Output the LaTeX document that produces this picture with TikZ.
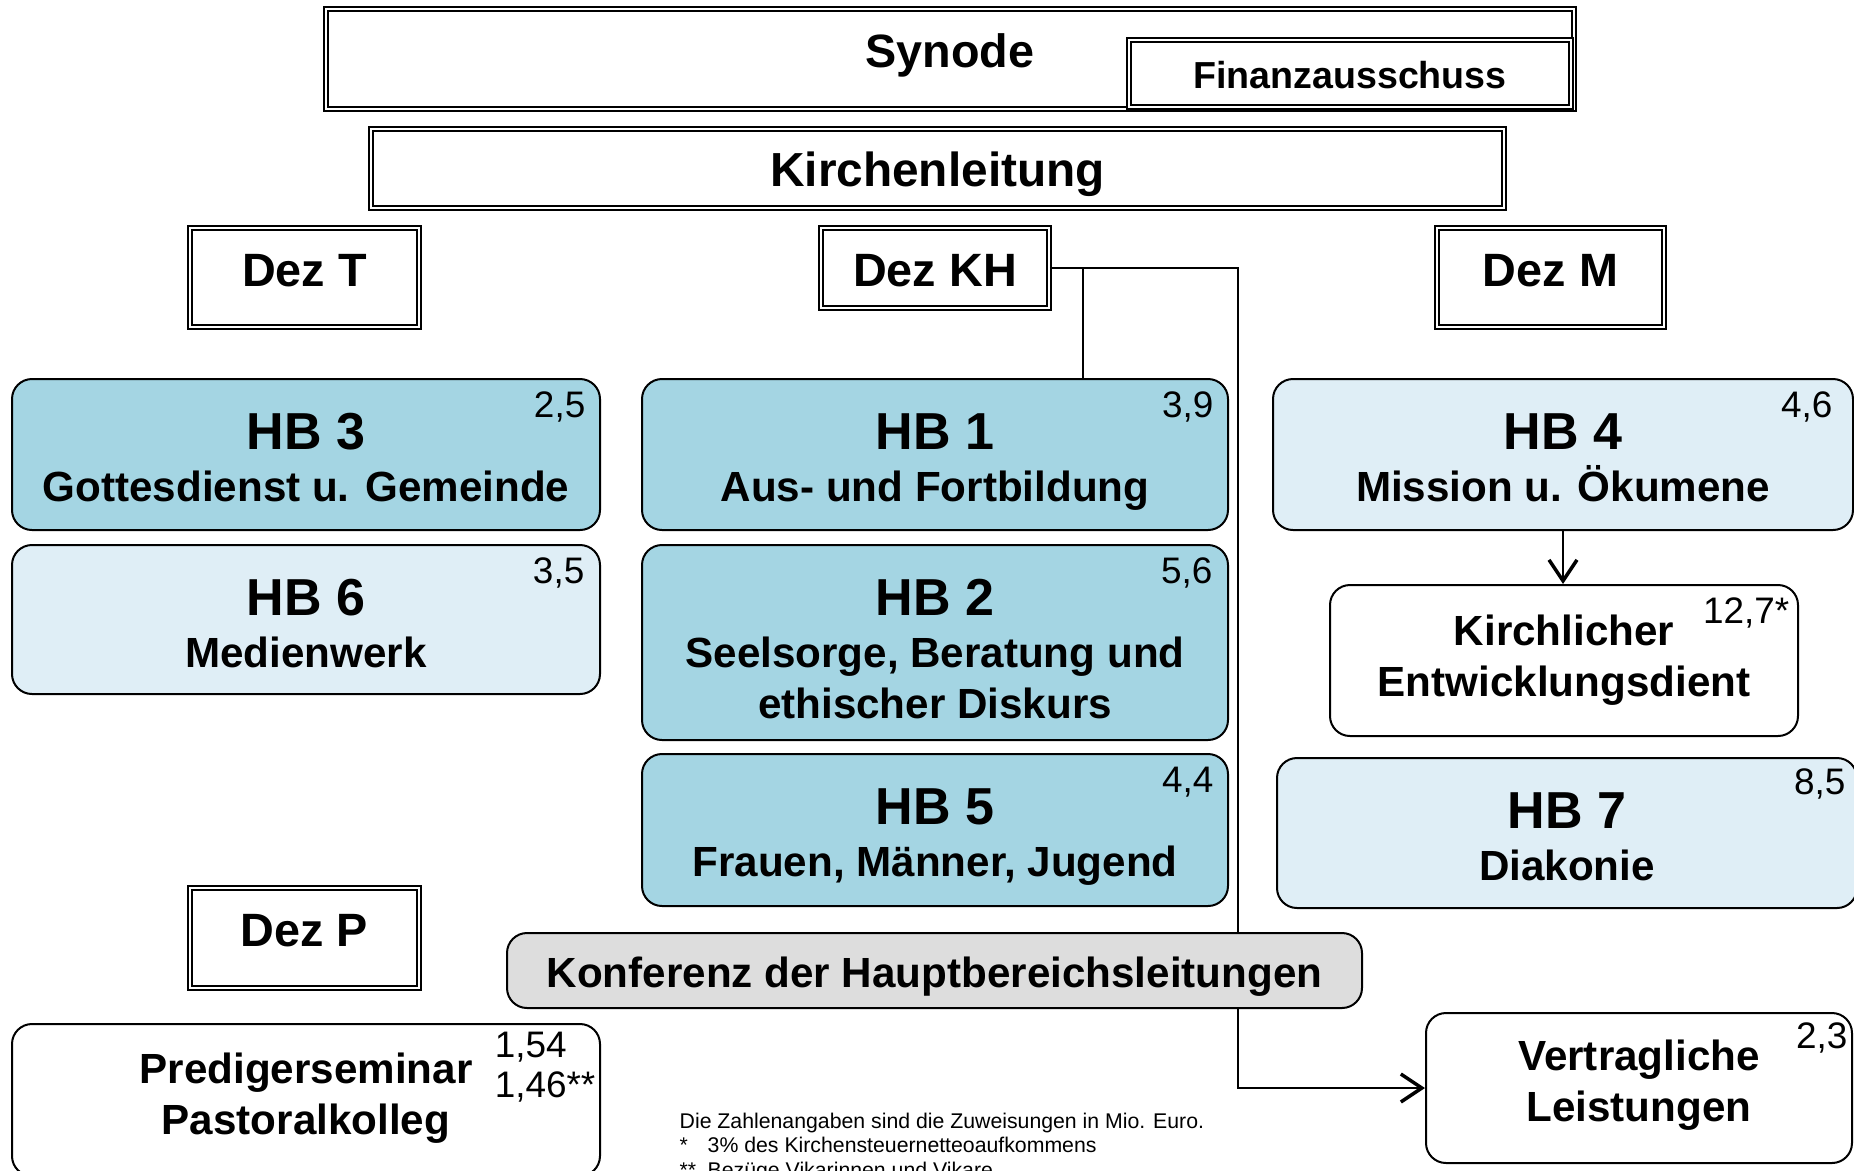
\documentclass[tikz,border=0pt]{standalone}
\usepackage{fontspec}
\setmainfont{Liberation Sans}
\usepackage{tikz}
\usetikzlibrary{arrows.meta, positioning}

\definecolor{hbdark}{RGB}{164,213,227}
\definecolor{hblight}{RGB}{223,238,246}
\definecolor{konfgray}{RGB}{221,221,221}

\newcommand{\hbtitle}[1]{{\fontsize{14.8}{16}\selectfont #1}\\[0.4pt]}

\tikzset{
  dbox/.style={draw, double, line width=0.15mm, double distance=0.25mm, fill=white, inner sep=0pt, anchor=north, font=\bfseries\fontsize{13.3}{16}\selectfont},
  hbox/.style={draw, line width=0.2mm, rounded corners=2mm, inner sep=0pt, anchor=north, align=center, font=\bfseries\fontsize{12}{14.5}\selectfont},
  num/.style={inner sep=0pt, anchor=north east, align=left, font=\fontsize{10.5}{11.5}\selectfont},
  conn/.style={line width=0.15mm},
  tip/.style={-{Straight Barb[length=2.1mm, width=2.8mm, line width=0.35mm]}}
}

\begin{document}
\begin{tikzpicture}[x=0.1mm, y=-0.1mm]
\useasboundingbox (0,0) rectangle (1854,1170);
\clip (0,0) rectangle (1854,1170);

\node[dbox, minimum width=124.8mm, text height=5.9mm, text depth=4.1mm] (synode) at (950,8) {Synode};
\node[dbox, minimum width=44.2mm, text height=4.9mm, text depth=1.8mm, font=\bfseries\fontsize{10.7}{13}\selectfont] (finanz) at (1350,39) {Finanzausschuss};
\node[dbox, minimum width=113.3mm, text height=5.8mm, text depth=2.1mm, font=\bfseries\fontsize{13.6}{16}\selectfont] (kl) at (937.5,128) {Kirchenleitung};

\node[dbox, minimum width=22.9mm, text height=5.9mm, text depth=4.0mm] (dezt) at (304.5,227) {Dez T};
\node[dbox, minimum width=22.8mm, text height=5.9mm, text depth=2.1mm] (dezkh) at (935,227) {Dez KH};
\node[dbox, minimum width=22.7mm, text height=5.9mm, text depth=4.0mm] (dezm) at (1550.5,227) {Dez M};
\node[dbox, minimum width=22.9mm, text height=5.9mm, text depth=4.1mm] (dezp) at (304.5,887) {Dez P};

\node[hbox, fill=hbdark, minimum width=58.8mm, text height=12.29mm, text depth=2.81mm] (hb3) at (306,378) {\hbtitle{HB 3}Gottesdienst u. Gemeinde};
\node[hbox, fill=hblight, minimum width=58.8mm, text height=12.29mm, text depth=2.61mm] (hb6) at (306,544) {\hbtitle{HB 6}Medienwerk};
\node[hbox, fill=hbdark, minimum width=58.6mm, text height=12.29mm, text depth=2.81mm] (hb1) at (935,378) {\hbtitle{HB 1}Aus- und Fortbildung};
\node[hbox, fill=hbdark, minimum width=58.6mm, text height=17.38mm, text depth=2.12mm] (hb2) at (935,544) {\hbtitle{HB 2}Seelsorge, Beratung und\\ethischer Diskurs};
\node[hbox, fill=hbdark, minimum width=58.6mm, text height=12.29mm, text depth=2.91mm] (hb5) at (935,753) {\hbtitle{HB 5}Frauen, Männer, Jugend};
\node[hbox, fill=hblight, minimum width=58.0mm, text height=12.29mm, text depth=2.81mm] (hb4) at (1563,378) {\hbtitle{HB 4}Mission u. Ökumene};
\node[hbox, fill=white, minimum width=46.8mm, text height=11.1mm, text depth=4.0mm] (ked) at (1564,584) {Kirchlicher\\Entwicklungsdient};
\node[hbox, fill=hblight, minimum width=58.0mm, text height=12.29mm, text depth=2.71mm] (hb7) at (1567,757) {\hbtitle{HB 7}Diakonie};
\node[hbox, fill=white, minimum width=58.8mm, text height=11.0mm, text depth=4.2mm] (pred) at (306,1023) {Predigerseminar\\Pastoralkolleg};
\node[hbox, fill=white, minimum width=42.6mm, text height=10.85mm, text depth=4.15mm] (vl) at (1639,1012) {Vertragliche\\Leistungen};

\node[num] (hb3n) at ([shift={(-15,13)}]hb3.north east) {2,5};
\node[num] (hb6n) at ([shift={(-16,13)}]hb6.north east) {3,5};
\node[num] (hb1n) at ([shift={(-15,13)}]hb1.north east) {3,9};
\node[num] (hb2n) at ([shift={(-16,13)}]hb2.north east) {5,6};
\node[num] (hb5n) at ([shift={(-15,13)}]hb5.north east) {4,4};
\node[num] (hb4n) at ([shift={(-21,13)}]hb4.north east) {4,6};
\node[num] (kedn) at ([shift={(-9,13)}]ked.north east) {12,7*};
\node[num] (hb7n) at ([shift={(-12,11)}]hb7.north east) {8,5};
\node[num] (predn) at ([shift={(-5,8)}]pred.north east) {1,54\\1,46**};
\node[num] (vln) at ([shift={(-5,10)}]vl.north east) {2,3};

\coordinate (khfork) at (1083,267);
\draw[conn] (khfork) -- (khfork |- hb1.north);
\draw[conn, tip] (dezkh.east) -- ++(188,0) |- (vl.west);
\draw[conn, tip] (hb4.south) -- (hb4.south |- ked.north);

\node[hbox, fill=konfgray, minimum width=85.5mm, text height=5.45mm, text depth=2.05mm] (konf) at (934.5,932) {Konferenz der Hauptbereichsleitungen};

\node[anchor=north west, inner sep=0pt, align=left, font=\fontsize{6.05}{7.05}\selectfont] (note) at (679,1112)
  {Die Zahlenangaben sind die Zuweisungen in Mio. Euro.\\
   \makebox[2.8mm][l]{*}3\% des Kirchensteuernetteoaufkommens\\
   \makebox[2.8mm][l]{**}Bezüge Vikarinnen und Vikare};
\end{tikzpicture}
\end{document}
